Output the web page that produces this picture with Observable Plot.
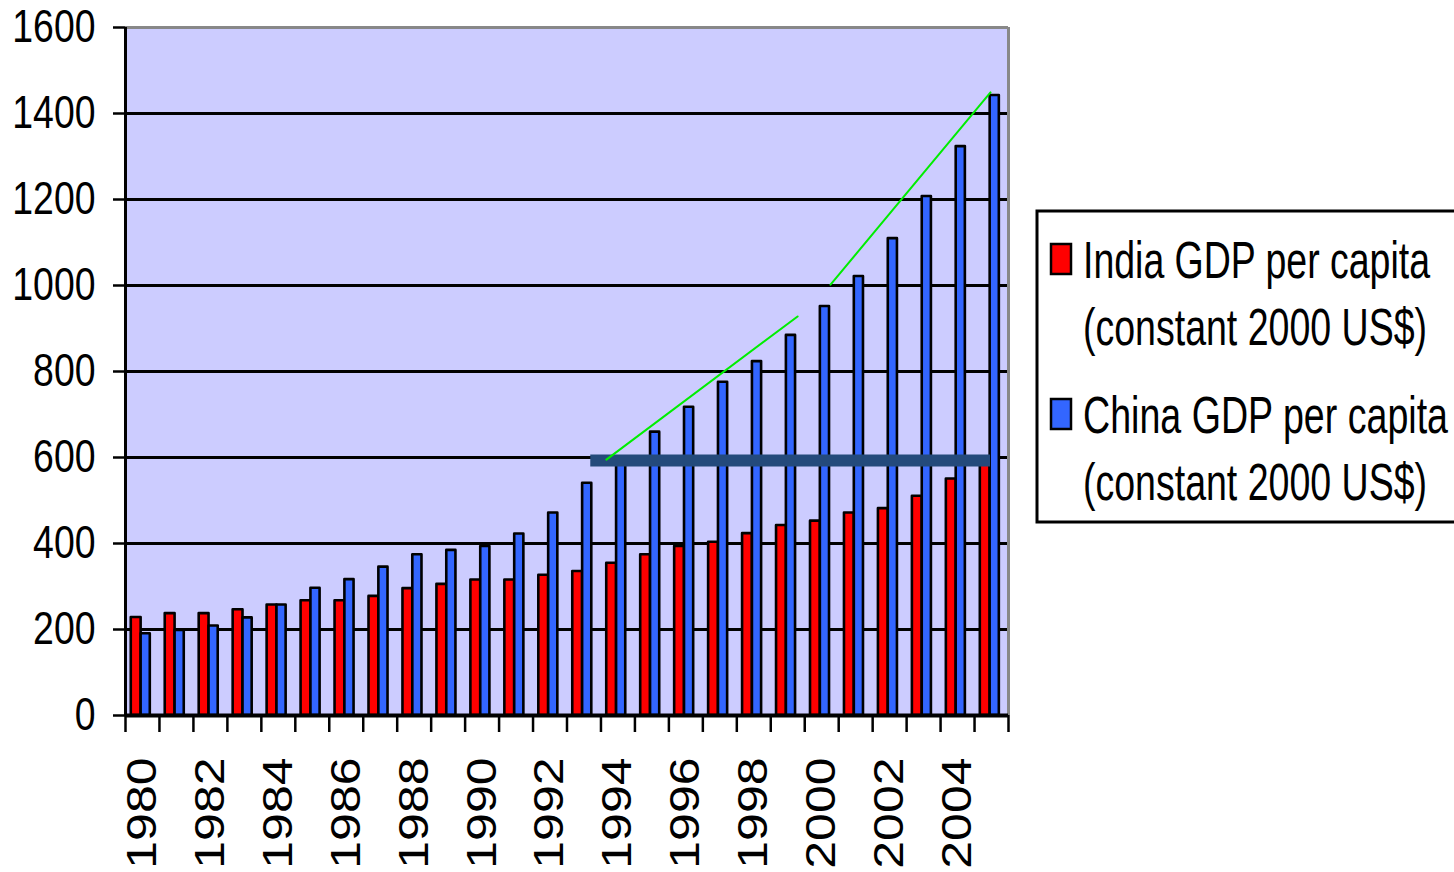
<!DOCTYPE html>
<html>
<head>
<meta charset="utf-8">
<script src="https://cdn.jsdelivr.net/npm/d3@7"></script>
<script src="https://cdn.jsdelivr.net/npm/@observablehq/plot@0.6"></script>
<style>
  html, body { margin: 0; padding: 0; background: #fff; overflow: hidden; }
  #chart { position: relative; width: 1454px; height: 872px; font-family: "Liberation Sans", Arial, sans-serif; }
  #chart > svg { position: absolute; left: 0; top: 0; }
</style>
</head>
<body>
<div id="chart"></div>
<script>
// GDP per capita, constant 2000 US$
const years = d3.range(1980, 2006);
const india = [228, 237, 237, 246, 257, 267, 267, 277, 295, 305, 315, 315, 326, 335, 354, 374, 393, 403, 423, 442, 452, 471, 481, 510, 550, 588];
const china = [190, 198, 208, 227, 257, 296, 316, 345, 374, 384, 393, 422, 471, 540, 600, 659, 717, 775, 823, 884, 951, 1021, 1109, 1207, 1323, 1442];

// axis ticks and labels
const yTicks = [0, 200, 400, 600, 800, 1000, 1200, 1400, 1600];
const gridValues = [200, 400, 600, 800, 1000, 1200, 1400];
const labelYears = [1980, 1982, 1984, 1986, 1988, 1990, 1992, 1994, 1996, 1998, 2000, 2002, 2004];

// annotations: India 2005 level reached by China in 1994, and two growth trend segments
const parityLevel = [{ from: 1993.7, to: 2005.47, gdp: 593 }];
const trendA = [{ year: 1994.16, gdp: 595 }, { year: 1999.79, gdp: 928 }];
const trendB = [{ year: 2000.76, gdp: 1002 }, { year: 2005.47, gdp: 1449 }];

const seriesNames = ["India GDP per capita", "China GDP per capita"];
const unitLabel = "(constant 2000 US$)";
const seriesColors = ["#ff0000", "#3366ff"];

const rows = years.map((year, i) => ({ year, india: india[i], china: china[i] }));

const plot = Plot.plot({
  width: 1454,
  height: 872,
  marginLeft: 125,
  marginRight: 446,
  marginTop: 27,
  marginBottom: 157,
  style: { fontFamily: "Liberation Sans, Arial, sans-serif", background: "transparent", color: "#000" },
  x: { type: "linear", domain: [1980, 2006] },
  y: { domain: [0, 1600] },
  marks: [
    Plot.frame({ fill: "#ccccff", stroke: null }),
    Plot.ruleY(gridValues, { stroke: "#000", strokeWidth: 3 }),
    Plot.rect(rows, {
      x1: d => d.year + 0.17, x2: d => d.year + 0.46, y1: 0, y2: "india",
      fill: seriesColors[0], stroke: "#000", strokeWidth: 2.6, strokeLinejoin: "round"
    }),
    Plot.rect(rows, {
      x1: d => d.year + 0.46, x2: d => d.year + 0.73, y1: 0, y2: "china",
      fill: seriesColors[1], stroke: "#000", strokeWidth: 2.6, strokeLinejoin: "round"
    }),
    Plot.ruleY(parityLevel, { y: "gdp", x1: "from", x2: "to", stroke: "#244a7b", strokeWidth: 12 }),
    Plot.line(trendA, { x: "year", y: "gdp", stroke: "#00ee00", strokeWidth: 2 }),
    Plot.line(trendB, { x: "year", y: "gdp", stroke: "#00ee00", strokeWidth: 2 }),
    // plot border: grey top and right, black axes
    Plot.ruleY([1600], { stroke: "#888", strokeWidth: 3 }),
    Plot.ruleX([2006], { stroke: "#888", strokeWidth: 3 }),
    Plot.ruleX([1980], { stroke: "#000", strokeWidth: 3 }),
    Plot.ruleY([0], { stroke: "#000", strokeWidth: 4 }),
    Plot.axisY(yTicks, { tickSize: 12, tickPadding: 18, fontSize: 46, strokeWidth: 2.5, tickFormat: d => String(d), label: null }),
    Plot.axisX(d3.range(1980, 2007), { tickSize: 17, tickFormat: () => "", strokeWidth: 2.5, label: null }),
    Plot.axisX(labelYears.map(y => y + 0.5), {
      tickSize: 0, tickPadding: 42, tickRotate: -90, fontSize: 42,
      tickFormat: d => String(d - 0.5), label: null
    })
  ]
});
document.getElementById("chart").appendChild(plot);

// condensed glyph widths for the tick labels
d3.select(plot).selectAll('g[aria-label="y-axis tick label"] text').each(function () {
  const t = this.textContent;
  this.setAttribute("textLength", t.length * 20.8);
  this.setAttribute("lengthAdjust", "spacingAndGlyphs");
});
d3.select(plot).selectAll('g[aria-label="x-axis tick label"] text').each(function () {
  const t = this.textContent;
  if (!t) return;
  this.setAttribute("textLength", t.length * 27.8);
  this.setAttribute("lengthAdjust", "spacingAndGlyphs");
});

// legend
const legend = d3.select("#chart").append("svg")
  .attr("width", 1454).attr("height", 872)
  .style("font-family", "Liberation Sans, Arial, sans-serif");
legend.append("rect")
  .attr("x", 1037).attr("y", 211).attr("width", 460).attr("height", 311)
  .attr("fill", "#fff").attr("stroke", "#000").attr("stroke-width", 3);
const entries = [
  { name: seriesNames[0], color: seriesColors[0], base: 278, len: 347 },
  { name: seriesNames[1], color: seriesColors[1], base: 433, len: 365 }
];
entries.forEach(e => {
  legend.append("rect")
    .attr("x", 1051).attr("y", e.base - 34).attr("width", 20).attr("height", 30)
    .attr("fill", e.color).attr("stroke", "#000").attr("stroke-width", 2.5);
  legend.append("text")
    .attr("x", 1083).attr("y", e.base).attr("font-size", 52)
    .attr("textLength", e.len).attr("lengthAdjust", "spacingAndGlyphs")
    .text(e.name);
  legend.append("text")
    .attr("x", 1083).attr("y", e.base + 67).attr("font-size", 52)
    .attr("textLength", 344).attr("lengthAdjust", "spacingAndGlyphs")
    .text(unitLabel);
});
</script>
</body>
</html>
